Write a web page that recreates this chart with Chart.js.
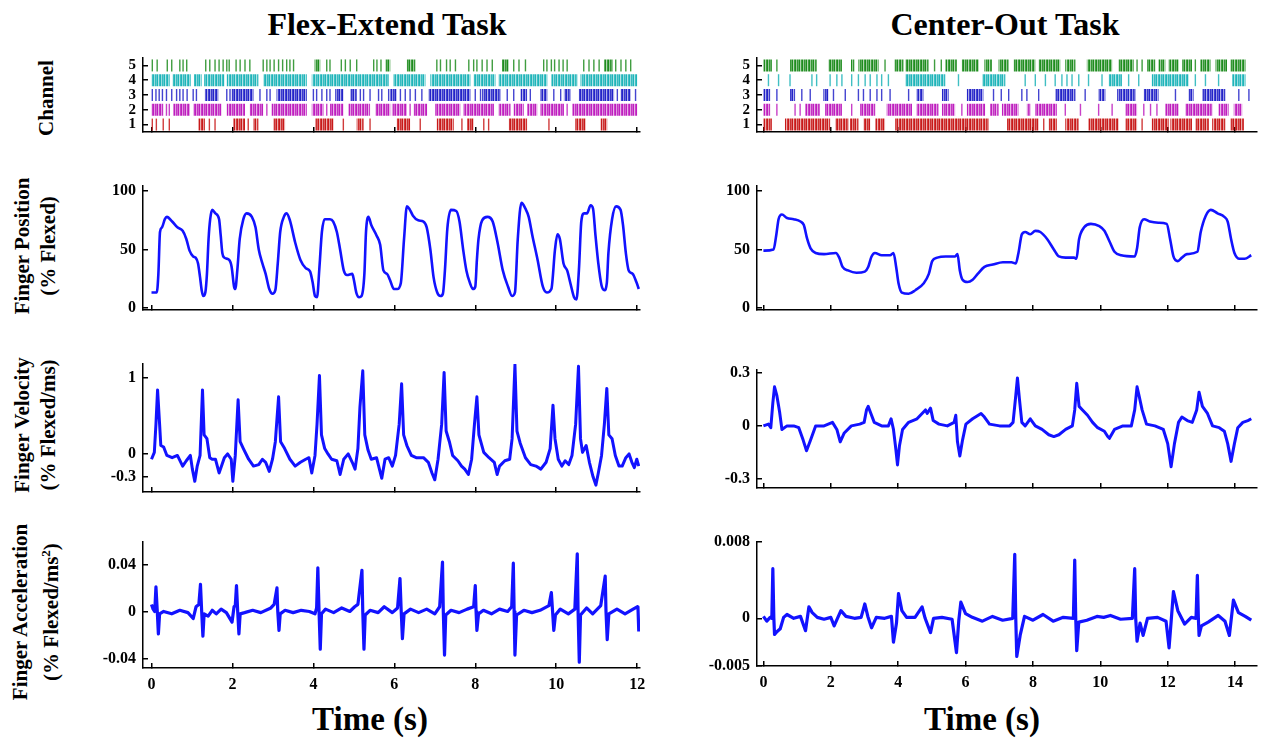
<!DOCTYPE html>
<html>
<head>
<meta charset="utf-8">
<script src="https://cdn.jsdelivr.net/npm/chart.js@4.4.1/dist/chart.umd.min.js"></script>
<style>
  body { margin: 0; background: #fff; width: 1269px; height: 745px; position: relative; overflow: hidden;
         font-family: "Liberation Serif", "Times New Roman", serif; font-weight: bold; color: #000; }
  canvas { position: absolute; }
  .lbl { position: absolute; white-space: nowrap; transform: translate(-50%, -50%); }
  .rot { position: absolute; white-space: nowrap; text-align: center; font-size: 21px; line-height: 26px;
         transform: translate(-50%, -50%) rotate(-90deg); }
  sup { font-size: 13px; }
</style>
</head>
<body>
<div class="lbl" style="left:387px;top:24px;font-size:32px">Flex-Extend Task</div>
<div class="lbl" style="left:1005px;top:24px;font-size:32px">Center-Out Task</div>
<div class="lbl" style="left:370px;top:719px;font-size:33px">Time (s)</div>
<div class="lbl" style="left:982px;top:719px;font-size:33px">Time (s)</div>
<div class="rot" style="left:46px;top:98px">Channel</div>
<div class="rot" style="left:35px;top:246px">Finger Position<br>(% Flexed)</div>
<div class="rot" style="left:35px;top:425px">Finger Velocity<br>(% Flexed/ms)</div>
<div class="rot" style="left:35px;top:612px">Finger Acceleration<br>(% Flexed/ms<sup>2</sup>)</div>

<script>
// tick values
const flexTimeTicks = [0, 2, 4, 6, 8, 10, 12];
const centerTimeTicks = [0, 2, 4, 6, 8, 10, 12, 14];
const channelTicks = [1, 2, 3, 4, 5];
const positionTicks = [0, 50, 100];
const flexVelocityTicks = [-0.3, 0, 1];
const centerVelocityTicks = [-0.3, 0, 0.3];
const flexAccelTicks = [-0.04, 0, 0.04];
const centerAccelTicks = [-0.005, 0, 0.008];

// spike rasters (s): a number is one spike, a pair is a dense burst
const flexCh5 = [0.02, 0.14, 0.39, 0.50, 0.70, 0.78, 0.87, 1.34, 1.44, 1.57, 1.67, 1.77, 1.86, 1.92, 2.09, 2.19, 2.31, 2.43,
  2.76, 2.85, 2.93, 3.03, 3.14, 3.24, 3.34, 3.42, 3.51, [4.03, 4.17], 4.33, 4.41, 4.69, 4.79, 4.91, 5.07, 5.49, 5.57, 5.67,
  [5.78, 5.90], [6.31, 6.52], 7.05, 7.14, 7.29, 7.38, 7.51, 7.84, 7.96, 8.04, 8.17, 8.29, 8.42, [8.66, 8.83], 8.95, 9.08,
  9.24, 9.69, 9.77, 9.88, 9.96, 10.07, 10.17, 10.27, 10.68, 10.81, 10.93, 11.06, [11.18, 11.39], 11.47, 11.60, 11.72, 11.84];
const flexCh4 = [[0.00, 0.45], [0.52, 0.97], [1.05, 1.24], [1.30, 1.80], [1.86, 2.64], [2.76, 3.84], [3.96, 5.86],
  [5.98, 6.77], [6.89, 7.88], [7.96, 8.50], [8.58, 9.78], [9.88, 10.52], [10.60, 12.00]];
const flexCh3 = [0.02, 0.11, 0.19, 0.27, 0.37, 0.50, 0.62, 0.70, 0.78, 0.88, 1.03, 1.11, [1.32, 1.65], 1.86, 1.94,
  [1.98, 2.52], 2.68, 2.85, 2.93, [3.09, 3.84], 4.00, 4.08, 4.21, 4.33, 4.41, [4.54, 4.74], [4.91, 5.07], 5.16, 5.24,
  5.40, 5.61, 5.69, 5.86, [5.90, 6.06], 6.15, 6.27, 6.39, 6.52, 6.68, [6.85, 7.88], 8.00, 8.13, [8.17, 8.62], 8.79,
  8.95, [9.12, 9.28], 9.36, [9.61, 9.78], 9.94, 10.11, [10.19, 10.35], [10.56, 11.43], 11.51, [11.59, 11.84], 11.96];
const flexCh2 = [[0.00, 0.29], 0.37, 0.44, [0.54, 0.95], [1.03, 1.73], [1.86, 2.31], [2.43, 2.76], 2.85, [2.97, 3.84],
  [3.96, 4.25], 4.33, [4.41, 4.74], [4.87, 5.40], [5.53, 5.90], [5.94, 6.31], 6.39, [6.48, 6.81], [7.01, 7.63],
  [7.71, 8.46], [8.58, 8.87], [8.95, 9.20], [9.28, 9.53], [9.61, 10.19], 10.27, [10.40, 12.00]];
const flexCh1 = [0.02, 0.12, 0.29, 0.44, [1.16, 1.32], 1.43, 1.57, [2.02, 2.31], 2.39, [2.52, 2.64], [3.01, 3.30],
  [4.04, 4.50], 4.74, [5.07, 5.24], 5.40, [6.06, 6.39], 6.64, [7.05, 7.47], 7.67, [7.80, 7.96], 8.21, 8.33,
  [8.83, 9.28], 9.82, [10.47, 10.73], [11.10, 11.26]];

const centerCh5 = [[0.00, 0.25], 0.40, [0.79, 1.58], [1.93, 2.33], [2.60, 2.70], [2.82, 3.42], 3.61, [3.89, 4.16],
  [4.21, 4.90], 5.08, 5.28, [5.40, 5.74], [5.89, 6.39], [6.56, 6.78], [6.98, 7.28], [7.43, 8.07], [8.17, 8.81],
  [8.96, 9.26], [9.60, 10.35], [10.54, 10.99], 11.09, 11.24, [11.39, 11.63], [11.73, 11.93], [12.03, 12.33],
  [12.43, 12.72], 12.82, [12.97, 13.27], [13.42, 13.76], [13.86, 14.31]];
const centerCh4 = [0.15, 0.45, 0.79, 1.44, 1.58, 1.98, 2.18, 2.33, 2.62, 2.82, 3.02, 3.17, 3.37, 3.51, 3.71,
  [4.21, 5.40], 5.79, [6.49, 7.18], 7.77, 8.07, 8.37, 8.66, 8.86, 9.01, 9.16, 9.36, 9.65, 10.05, [10.25, 10.64],
  10.84, 11.14, [11.53, 12.62], 12.82, 13.12, 13.51, [13.91, 14.31]];
const centerCh3 = [[0.00, 0.20], 0.40, [0.79, 0.94], 1.14, 1.39, [1.78, 1.93], 2.08, 2.43, 2.82, 2.97, 3.17, 3.37,
  3.51, 3.76, 4.31, [4.55, 4.75], [5.30, 5.50], [6.04, 6.53], 6.83, 7.06, 7.28, 7.67, 7.82, 8.17, [8.66, 9.26], 9.55,
  [9.95, 10.15], [10.50, 11.04], [11.29, 11.73], 12.23, [12.62, 12.77], [13.02, 13.71], 14.11, 14.41];
const centerCh2 = [[0.00, 0.20], 0.40, 0.94, 1.09, [1.24, 1.68], [1.83, 2.33], 2.62, [2.87, 3.32], [3.66, 4.41],
  [4.55, 5.20], [5.30, 5.69], 5.89, [6.04, 6.58], [6.73, 6.98], [7.08, 7.57], [7.82, 7.92], [8.07, 8.71], 8.96, 9.41,
  9.95, 10.35, [10.74, 11.09], 11.29, 11.49, 11.68, [11.93, 12.33], [12.52, 13.32], [13.51, 13.81], [13.96, 14.21]];
const centerCh1 = [[0.00, 0.25], [0.64, 1.98], [2.13, 2.52], [2.57, 2.82], [2.97, 3.17], [3.32, 3.61], [3.91, 6.68],
  [7.23, 8.17], 8.32, [8.47, 8.71], [8.96, 9.36], [9.65, 10.54], [10.74, 11.09], 11.24, [11.53, 12.03], [12.08, 12.72],
  [12.82, 13.22], [13.32, 13.71], [13.86, 14.26]];

// finger position (% flexed) vs time (s)
const flexPosition = [[0,13],[0.13,13],[0.17,29],[0.21,65],[0.26,69],[0.33,76],[0.38,78],[0.51,74],[0.64,69],[0.77,66],
  [0.86,59],[0.94,49],[1.03,44],[1.09,43],[1.15,38],[1.20,26],[1.24,15],[1.28,10],[1.33,13],[1.37,29],[1.41,59],[1.45,76],
  [1.50,84],[1.58,81],[1.67,76],[1.71,62],[1.75,47],[1.80,43],[1.92,41],[1.98,35],[2.04,18],[2.07,16],[2.12,32],[2.18,59],
  [2.27,76],[2.35,81],[2.48,78],[2.57,69],[2.65,50],[2.74,38],[2.82,29],[2.91,16],[2.99,12],[3.06,15],[3.12,38],[3.18,65],
  [3.27,78],[3.34,81],[3.42,75],[3.55,56],[3.68,41],[3.81,34],[3.92,31],[3.98,22],[4.04,10],[4.09,9],[4.15,35],[4.21,65],
  [4.28,76],[4.41,76],[4.49,74],[4.58,65],[4.66,50],[4.75,32],[4.83,28],[4.96,29],[5.00,24],[5.06,13],[5.13,9],[5.19,10],
  [5.26,29],[5.30,65],[5.36,78],[5.43,71],[5.56,62],[5.65,54],[5.73,32],[5.82,29],[5.89,24],[5.99,16],[6.07,16],[6.16,21],
  [6.24,59],[6.31,87],[6.37,85],[6.46,79],[6.59,75],[6.72,74],[6.80,69],[6.89,50],[6.97,26],[7.06,13],[7.14,10],[7.20,12],
  [7.25,32],[7.31,68],[7.40,84],[7.53,83],[7.61,74],[7.70,50],[7.78,32],[7.87,21],[7.94,16],[8.00,18],[8.04,41],[8.08,59],
  [8.17,75],[8.30,78],[8.43,74],[8.55,56],[8.68,32],[8.81,18],[8.91,10],[8.98,13],[9.05,59],[9.14,90],[9.24,85],[9.32,78],
  [9.41,62],[9.54,41],[9.67,18],[9.77,13],[9.88,16],[9.97,50],[10.03,63],[10.09,59],[10.18,38],[10.27,32],[10.35,21],
  [10.44,9],[10.50,7],[10.56,32],[10.62,74],[10.69,81],[10.76,81],[10.85,88],[10.91,85],[10.97,62],[11.04,38],[11.12,19],
  [11.19,15],[11.25,21],[11.29,47],[11.38,76],[11.48,87],[11.59,84],[11.65,71],[11.72,47],[11.79,32],[11.89,29],
  [11.98,22],[12.04,16]];
const centerPosition = [[0,49],[0.30,50],[0.38,62],[0.45,76],[0.55,80],[0.70,77],[0.90,76],[1.10,74],[1.20,71],[1.30,59],
  [1.40,51],[1.55,47],[1.80,46],[2.15,47],[2.25,43],[2.35,35],[2.51,32],[2.76,30],[3.01,31],[3.11,35],[3.21,44],[3.31,47],
  [3.51,45],[3.76,45],[3.86,47],[3.94,35],[4.01,21],[4.11,13],[4.31,12],[4.51,15],[4.76,21],[4.91,29],[5.01,40],[5.16,43],
  [5.41,44],[5.69,44],[5.76,46],[5.83,32],[5.91,24],[6.06,22],[6.21,24],[6.36,29],[6.56,35],[6.81,37],[7.11,39],[7.36,39],
  [7.49,38],[7.57,47],[7.67,63],[7.77,65],[7.92,63],[8.07,66],[8.22,65],[8.42,59],[8.62,50],[8.77,44],[8.97,43],[9.22,43],
  [9.29,42],[9.37,59],[9.52,69],[9.72,72],[9.97,70],[10.12,66],[10.27,57],[10.42,48],[10.62,45],[11.02,44],[11.09,51],
  [11.17,69],[11.30,76],[11.47,74],[11.72,73],[11.97,72],[12.07,59],[12.17,44],[12.30,40],[12.42,43],[12.57,46],[12.88,48],
  [12.98,65],[13.13,79],[13.28,84],[13.48,81],[13.68,78],[13.78,74],[13.88,59],[13.98,47],[14.13,42],[14.28,42],[14.48,45]];

// finger velocity (% flexed/ms)
const flexVelocity = [[0,-0.07],[0.07,0.02],[0.11,0.39],[0.15,0.84],[0.20,0.39],[0.23,0.11],[0.30,0.09],[0.38,-0.02],
  [0.51,-0.05],[0.64,-0.02],[0.77,-0.16],[0.86,-0.09],[0.96,-0.02],[1.01,-0.20],[1.07,-0.36],[1.13,-0.16],[1.20,-0.02],
  [1.26,0.84],[1.30,0.25],[1.37,0.20],[1.44,-0.05],[1.50,-0.07],[1.58,-0.07],[1.67,-0.25],[1.73,-0.16],[1.80,-0.05],
  [1.88,0],[1.97,-0.07],[2.01,-0.36],[2.07,-0.02],[2.14,0.71],[2.19,0.16],[2.27,0.07],[2.40,-0.07],[2.52,-0.16],
  [2.65,-0.14],[2.74,-0.07],[2.82,-0.11],[2.91,-0.23],[2.99,-0.07],[3.06,0.16],[3.14,0.75],[3.19,0.16],[3.29,0.07],
  [3.42,-0.07],[3.55,-0.16],[3.68,-0.11],[3.81,-0.07],[3.89,-0.05],[3.96,-0.25],[4.04,-0.02],[4.09,0.39],[4.15,1.03],
  [4.20,0.25],[4.28,0.07],[4.36,0],[4.45,-0.07],[4.58,-0.09],[4.66,-0.27],[4.75,-0.07],[4.86,0],[4.96,-0.11],[5.03,-0.20],
  [5.10,0.07],[5.15,0.61],[5.22,1.09],[5.27,0.25],[5.35,0.05],[5.43,-0.07],[5.56,-0.05],[5.69,-0.32],[5.77,-0.07],
  [5.86,-0.05],[5.95,-0.16],[6.03,-0.02],[6.12,0.39],[6.18,0.92],[6.23,0.25],[6.31,0.11],[6.42,-0.02],[6.54,-0.05],
  [6.72,-0.05],[6.84,-0.11],[6.93,-0.25],[7.00,-0.34],[7.08,-0.07],[7.17,0.39],[7.23,1.07],[7.28,0.30],[7.36,0.16],
  [7.44,-0.02],[7.57,-0.09],[7.66,-0.16],[7.74,-0.20],[7.83,-0.27],[7.91,-0.07],[7.98,0.39],[8.04,0.75],[8.09,0.25],
  [8.21,0.02],[8.34,-0.05],[8.47,-0.11],[8.54,-0.27],[8.60,-0.16],[8.73,-0.09],[8.85,-0.07],[8.91,0.20],[8.98,1.17],
  [9.03,0.30],[9.11,0.14],[9.24,-0.05],[9.37,-0.14],[9.50,-0.16],[9.62,-0.20],[9.75,-0.11],[9.85,0.07],[9.92,0.64],
  [9.97,0.20],[10.05,-0.07],[10.14,-0.16],[10.22,-0.09],[10.31,-0.14],[10.39,-0.02],[10.48,0.39],[10.55,1.15],[10.60,0.20],
  [10.65,0.02],[10.74,0.11],[10.82,-0.11],[10.91,-0.30],[10.98,-0.41],[11.04,-0.25],[11.12,-0.02],[11.19,0.39],[11.25,0.86],
  [11.30,0.25],[11.38,0.20],[11.46,-0.02],[11.55,-0.16],[11.63,-0.16],[11.72,-0.05],[11.80,0],[11.87,-0.11],[11.93,-0.18],
  [11.99,-0.07],[12.04,-0.16]];
const centerVelocity = [[0,0],[0.15,0.01],[0.22,-0.01],[0.28,0.13],[0.33,0.22],[0.40,0.17],[0.48,0.08],[0.55,-0.02],
  [0.70,0],[0.90,0],[1.05,-0.01],[1.18,-0.08],[1.28,-0.14],[1.40,-0.08],[1.55,0],[1.80,0],[2.05,0.02],[2.18,-0.02],
  [2.28,-0.09],[2.40,-0.04],[2.61,0],[2.86,0.01],[2.99,0.02],[3.06,0.09],[3.11,0.11],[3.19,0.07],[3.29,0.02],[3.51,0],
  [3.71,0],[3.79,0.04],[3.86,-0.02],[3.93,-0.13],[3.98,-0.22],[4.04,-0.11],[4.13,-0.02],[4.31,0.02],[4.56,0.04],
  [4.71,0.07],[4.81,0.09],[4.86,0.07],[4.96,0.10],[5.04,0.03],[5.21,0.01],[5.46,0],[5.66,0.02],[5.71,0.06],[5.76,-0.09],
  [5.83,-0.17],[5.91,-0.08],[6.01,0.01],[6.21,0.04],[6.46,0.07],[6.56,0.05],[6.71,0.01],[7.01,0],[7.31,0],[7.41,0.02],
  [7.49,0.17],[7.54,0.27],[7.60,0.15],[7.67,0.02],[7.77,0],[7.92,0.04],[8.07,0],[8.27,-0.02],[8.47,-0.05],[8.62,-0.06],
  [8.77,-0.05],[8.97,-0.02],[9.17,0],[9.24,0.09],[9.30,0.24],[9.37,0.11],[9.47,0.09],[9.62,0.06],[9.77,0.02],[9.92,-0.01],
  [10.12,-0.03],[10.22,-0.06],[10.27,-0.07],[10.42,-0.02],[10.67,0],[10.92,0],[11.02,0.09],[11.09,0.22],[11.15,0.17],
  [11.24,0.09],[11.37,0.01],[11.62,0],[11.87,-0.02],[12.00,-0.10],[12.10,-0.23],[12.20,-0.10],[12.32,0.02],[12.42,0.05],
  [12.58,0.03],[12.73,0.02],[12.86,0.09],[12.93,0.19],[13.03,0.11],[13.18,0.07],[13.33,0],[13.53,-0.01],[13.68,-0.03],
  [13.78,-0.10],[13.88,-0.20],[13.98,-0.10],[14.08,-0.01],[14.23,0.02],[14.38,0.03],[14.48,0.04]];

// finger acceleration (% flexed/ms^2)
const flexAccel = [[0,0.006],[0.04,0.002],[0.08,0],[0.11,0.021],[0.14,0.002],[0.17,-0.019],[0.20,-0.002],[0.3,0],
  [0.5,-0.002],[0.7,0.001],[0.9,-0.001],[1.03,-0.006],[1.1,0.004],[1.17,0.006],[1.21,0.023],[1.24,0],[1.27,-0.021],
  [1.3,-0.002],[1.4,-0.004],[1.5,0.001],[1.6,-0.002],[1.72,0.002],[1.85,-0.001],[1.99,-0.009],[2.04,0.004],[2.07,0.005],
  [2.10,0.022],[2.13,0],[2.16,-0.019],[2.19,-0.002],[2.3,-0.001],[2.5,0.001],[2.7,-0.001],[2.95,0.003],[3.03,0.006],
  [3.10,0.020],[3.12,0],[3.15,-0.016],[3.18,-0.002],[3.3,0.001],[3.5,-0.001],[3.7,0.001],[3.9,0],[4.04,-0.002],[4.08,0.003],
  [4.11,0.037],[4.14,0],[4.17,-0.032],[4.2,-0.002],[4.3,0.002],[4.5,-0.001],[4.7,0.003],[4.9,0],[5.02,0.004],[5.1,0.006],
  [5.20,0.035],[5.22,0],[5.25,-0.032],[5.28,-0.003],[5.4,0.001],[5.6,-0.001],[5.75,0.004],[5.95,-0.001],[6.08,0.003],
  [6.14,0.028],[6.17,0],[6.20,-0.023],[6.24,-0.002],[6.4,0.002],[6.6,-0.001],[6.8,0.002],[7.0,-0.002],[7.12,0.004],
  [7.19,0.042],[7.21,0],[7.24,-0.037],[7.27,-0.003],[7.4,0.001],[7.6,-0.001],[7.8,0.002],[7.96,0.004],[8.00,0.022],
  [8.02,0],[8.04,-0.016],[8.08,-0.002],[8.2,0.001],[8.4,-0.002],[8.6,0.002],[8.8,0],[8.9,0.004],[8.94,0.041],[8.96,0],
  [8.98,-0.037],[9.02,-0.003],[9.2,0.001],[9.4,-0.001],[9.6,0.001],[9.82,0.005],[9.88,0.016],[9.91,0],[9.94,-0.016],
  [9.98,-0.003],[10.1,0.002],[10.3,-0.002],[10.46,0.002],[10.52,0.049],[10.54,0],[10.57,-0.043],[10.6,-0.003],
  [10.75,0.003],[10.9,-0.002],[11.1,0.005],[11.21,0.030],[11.23,0],[11.26,-0.024],[11.3,-0.002],[11.5,0.002],
  [11.7,-0.002],[11.9,0.002],[12.0,0.004],[12.02,0.003],[12.04,-0.017]];
const centerAccel = [[0,0.0002],[0.1,-0.0003],[0.2,0.0001],[0.25,0],[0.28,0.0052],[0.31,0],[0.33,-0.0017],[0.4,-0.0014],
  [0.5,-0.0011],[0.6,0.0001],[0.7,0.0004],[0.9,0],[1.1,0.0002],[1.2,-0.0008],[1.25,-0.0013],[1.35,0.0012],[1.45,0.0006],
  [1.6,0.0001],[1.8,-0.0001],[2.0,0.0001],[2.1,-0.0008],[2.3,0.0008],[2.45,0.0002],[2.7,0],[2.9,0.0001],[3.01,0.0015],
  [3.1,0.0002],[3.21,-0.001],[3.35,0.0001],[3.6,0],[3.8,0.0002],[3.86,-0.0025],[3.95,-0.0005],[4.01,0.0026],[4.11,0.0008],
  [4.25,0.0001],[4.5,0.0001],[4.71,0.0012],[4.8,0],[4.96,-0.0015],[5.05,0],[5.3,0.0001],[5.6,-0.0001],[5.73,-0.0036],
  [5.8,-0.0002],[5.86,0.0017],[6.0,0.0005],[6.2,0.0001],[6.5,-0.0003],[6.8,0.0002],[7.1,-0.0002],[7.4,0],[7.46,0.0067],
  [7.49,0],[7.52,-0.004],[7.62,-0.0018],[7.75,0.0002],[8.0,-0.0002],[8.3,0.0004],[8.6,-0.0003],[8.9,0.0001],[9.2,0],
  [9.24,0.0061],[9.27,0],[9.30,-0.0034],[9.36,-0.0004],[9.6,-0.0002],[9.9,0.0002],[10.1,0.0001],[10.3,0.0003],[10.6,-0.0001],
  [10.95,0],[11.02,0.0052],[11.05,0],[11.09,-0.0024],[11.18,-0.0005],[11.27,-0.0018],[11.4,0],[11.7,0.0001],
  [11.95,-0.0003],[12.04,-0.0031],[12.1,-0.0004],[12.17,0.0028],[12.3,0.0008],[12.5,-0.0006],[12.7,0.0001],[12.84,0],
  [12.88,0.0045],[12.91,0],[12.93,-0.0018],[13.0,-0.0008],[13.2,-0.0004],[13.5,0.0003],[13.7,-0.0003],[13.83,-0.0018],
  [13.95,0.0019],[14.1,0.0006],[14.3,0.0002],[14.48,-0.0002]];

document.addEventListener("DOMContentLoaded", main);

const traceBlue = "rgb(18,18,255)";
const channelRgb = { 5: "30,140,30", 4: "30,180,185", 3: "35,35,200", 2: "190,30,190", 1: "200,25,25" };
const tickFont = { family: "Liberation Serif", size: 16, weight: "bold" };

// vertical stripe texture so bursts read as many thin spike lines
function stripes(rgb) {
  const c = document.createElement("canvas");
  c.width = 7; c.height = 1;
  const g = c.getContext("2d");
  [1, 0.45, 0.9, 0.7, 1, 0.35, 0.85].forEach((a, i) => {
    g.fillStyle = `rgba(${rgb},${a})`;
    g.fillRect(i, 0, 1, 1);
  });
  return g.createPattern(c, "repeat");
}

function main() {
  // left column: axis x 143..640, right column 757..1257
  makePanel([143, 58, 640, 132], [-0.21, 12.07], flexTimeTicks, [0.5, 5.5], channelTicks, false,
    rasterSets([[5, flexCh5], [4, flexCh4], [3, flexCh3], [2, flexCh2], [1, flexCh1]]), 15);
  makePanel([757, 58, 1257, 132], [-0.19, 14.65], centerTimeTicks, [0.5, 5.5], channelTicks, false,
    rasterSets([[5, centerCh5], [4, centerCh4], [3, centerCh3], [2, centerCh2], [1, centerCh1]]), 15);

  makePanel([143, 186, 640, 310], [-0.21, 12.07], flexTimeTicks, [-2, 104.5], positionTicks, false,
    [trace(flexPosition, 2.6, true)]);
  makePanel([757, 186, 1257, 310], [-0.19, 14.65], centerTimeTicks, [-2, 104.5], positionTicks, false,
    [trace(centerPosition, 2.6, true)]);

  makePanel([143, 364, 640, 492], [-0.21, 12.07], flexTimeTicks, [-0.5, 1.18], flexVelocityTicks, false,
    [trace(flexVelocity, 3, false)]);
  makePanel([757, 370, 1257, 488], [-0.19, 14.65], centerTimeTicks, [-0.35, 0.315], centerVelocityTicks, false,
    [trace(centerVelocity, 3, false)]);

  makePanel([143, 542, 640, 668], [-0.21, 12.07], flexTimeTicks, [-0.048, 0.059], flexAccelTicks, true,
    [trace(flexAccel, 3.2, false)]);
  makePanel([757, 542, 1257, 666], [-0.19, 14.65], centerTimeTicks, [-0.005, 0.008], centerAccelTicks, true,
    [trace(centerAccel, 3.2, false)]);
}

function trace(points, width, smooth) {
  return {
    data: points.map(p => ({ x: p[0], y: p[1] })),
    borderColor: traceBlue,
    borderWidth: width,
    pointRadius: 0,
    cubicInterpolationMode: smooth ? "monotone" : "default",
    tension: 0,
    borderJoinStyle: "round",
  };
}

function rasterSets(rows) {
  const sets = [];
  rows.forEach(([ch, marks]) => {
    const bursts = [];
    const spikes = [];
    marks.forEach(m => {
      if (Array.isArray(m)) {
        bursts.push({ x: m[0], y: ch }, { x: m[1], y: ch }, { x: m[1], y: null });
      } else {
        spikes.push({ x: m, y: ch });
      }
    });
    sets.push({
      data: bursts, borderColor: stripes(channelRgb[ch]), borderWidth: 12, borderCapStyle: "butt",
      pointRadius: 0, spanGaps: false,
    });
    sets.push({
      data: spikes, showLine: false, pointStyle: "line", pointRotation: 90, pointRadius: 6,
      pointBorderColor: `rgba(${channelRgb[ch]},0.85)`, pointBorderWidth: 1.4,
    });
  });
  return sets;
}

function makePanel(area, xRange, xTicks, yRange, yTicks, showX, datasets, ySize) {
  const W = 60, H = 32, PT = 8, PR = 8;
  const canvas = document.createElement("canvas");
  canvas.width = area[2] - area[0] + W + PR;
  canvas.height = area[3] - area[1] + H + PT;
  canvas.style.left = (area[0] - W) + "px";
  canvas.style.top = (area[1] - PT) + "px";
  document.body.appendChild(canvas);

  const axisCommon = {
    type: "linear",
    grid: { drawOnChartArea: false, drawTicks: true, tickLength: -5, color: "#000", lineWidth: 1.5 },
    border: { color: "#000", width: 1.5 },
  };

  new Chart(canvas.getContext("2d"), {
    type: "line",
    data: { datasets },
    options: {
      responsive: false,
      animation: false,
      events: [],
      layout: { padding: { top: PT, right: PR, left: 0, bottom: 0 } },
      plugins: { legend: { display: false }, tooltip: { enabled: false } },
      scales: {
        x: {
          ...axisCommon,
          min: xRange[0],
          max: xRange[1],
          afterBuildTicks: s => { s.ticks = xTicks.map(v => ({ value: v })); },
          afterFit: s => { s.height = H; s.paddingLeft = 0; s.paddingRight = 0; },
          ticks: {
            display: showX, autoSkip: false, maxRotation: 0, padding: 12, color: "#000",
            font: tickFont, callback: v => String(v),
          },
        },
        y: {
          ...axisCommon,
          min: yRange[0],
          max: yRange[1],
          afterBuildTicks: s => { s.ticks = yTicks.map(v => ({ value: v })); },
          afterFit: s => { s.width = W; s.paddingTop = 0; s.paddingBottom = 0; },
          ticks: {
            autoSkip: false, padding: 12, color: "#000",
            font: { ...tickFont, size: ySize || 16 }, callback: v => String(v),
          },
        },
      },
    },
  });
}
</script>
</body>
</html>
